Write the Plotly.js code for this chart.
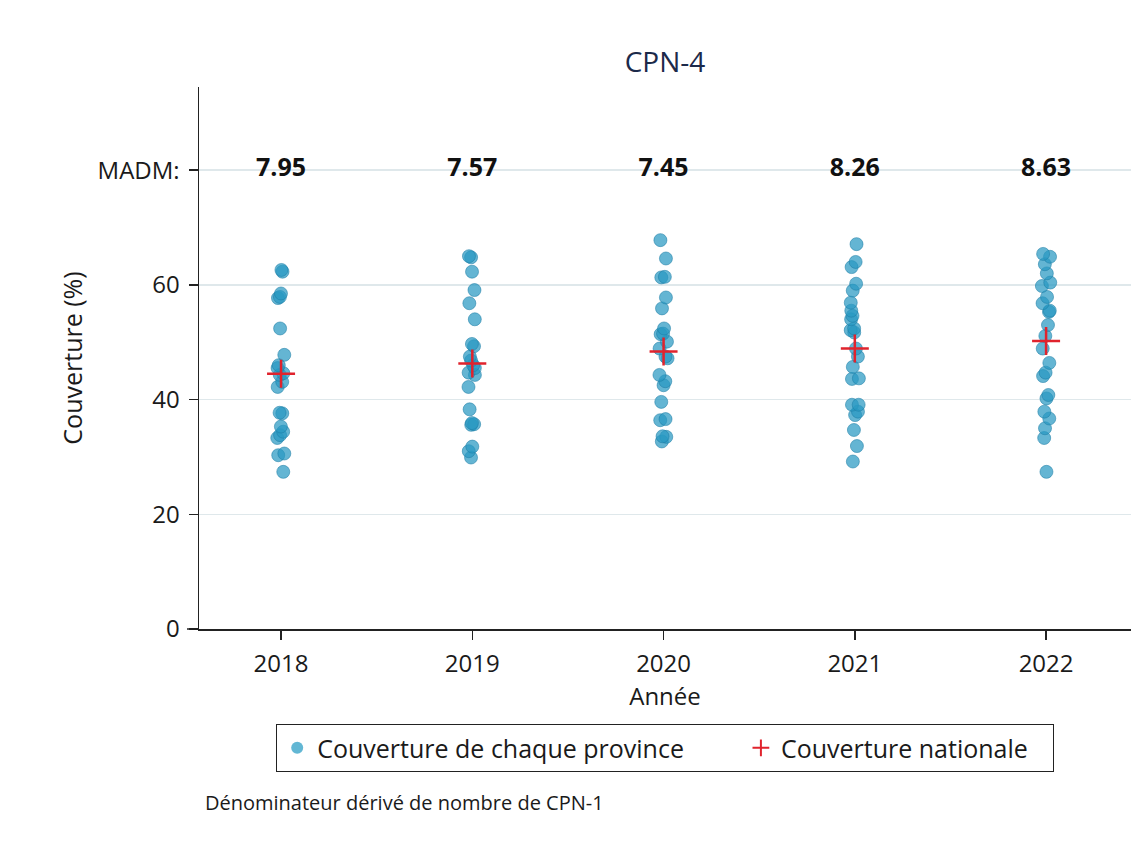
<!DOCTYPE html>
<html>
<head>
<meta charset="utf-8">
<script src="https://cdn.plot.ly/plotly-3.0.1.min.js"></script>
<style>
  body { margin: 0; background: #fff; }
  #chart { width: 1144px; height: 843px; }
</style>
</head>
<body>
<div id="chart"></div>
<script>
// Années et valeurs
var years = [2018, 2019, 2020, 2021, 2022];

var prov2018 = [62.3, 62.6, 57.7, 58.5, 57.9, 52.4, 47.8, 46.0, 45.5, 44.6, 44.3, 43.1,
	42.2, 37.6, 37.7, 35.3, 34.4, 33.8, 33.3, 30.3, 30.6, 27.4];
var prov2019 = [64.8, 65.0, 62.3, 59.1, 56.8, 54.0, 49.7, 49.3, 47.5, 46.8, 46.0, 45.5,
	44.3, 44.7, 42.2, 38.3, 35.7, 35.9, 35.6, 31.8, 31.0, 29.9];
var prov2020 = [67.8, 64.6, 61.4, 61.3, 57.8, 55.9, 52.4, 51.5, 51.4, 50.1, 48.9, 47.2,
	47.5, 44.3, 43.2, 42.5, 39.6, 36.6, 36.4, 33.6, 33.5, 32.7];
var prov2021 = [67.1, 64.0, 63.1, 60.2, 59.0, 56.9, 55.5, 54.6, 54.0, 52.4, 52.1, 51.7,
	48.9, 47.5, 45.7, 43.7, 43.6, 39.1, 39.1, 37.9, 37.3, 34.7, 31.9, 29.2];
var prov2022 = [65.4, 64.9, 63.6, 62.0, 60.4, 59.8, 57.9, 56.8, 55.5, 55.3, 53.0, 51.1,
	48.9, 46.4, 44.7, 44.1, 40.8, 40.2, 37.9, 36.7, 35.0, 33.3, 27.4];

var national = [44.5, 46.3, 48.4, 48.9, 50.2];
var madm = ['7.95', '7.57', '7.45', '8.26', '8.63'];
var madmRow = 80;

var yTickVals = [0, 20, 40, 60, 80];
var yTickText = ['0', '20', '40', '60', 'MADM:'];

// Points par province : une boîte invisible par année, jitter de Plotly
var provByYear = [prov2018, prov2019, prov2020, prov2021, prov2022];
var provX = [];
var provY = [];
provByYear.forEach(function (vals, i) {
	vals.forEach(function (v) {
		provX.push(years[i]);
		provY.push(v);
	});
});

var dotColor = 'rgba(40,152,194,0.72)';
var font = '"Open Sans", "Noto Sans", sans-serif';
var nb = '\u00a0';

var traces = [{
	type: 'box',
	x: provX,
	y: provY,
	boxpoints: 'all',
	jitter: 0.6,
	pointpos: 0,
	width: 0.08,
	fillcolor: 'rgba(0,0,0,0)',
	line: { width: 0, color: 'rgba(0,0,0,0)' },
	whiskerwidth: 0,
	marker: { size: 13, color: dotColor, line: { width: 1, color: 'rgba(30,125,165,0.55)' } },
	hoverinfo: 'skip',
	showlegend: false
}, {
	type: 'scatter',
	mode: 'markers',
	name: 'Couverture de chaque province' + nb.repeat(8),
	x: [null],
	y: [null],
	marker: { size: 12, color: 'rgba(70,170,205,0.85)' }
}, {
	type: 'scatter',
	mode: 'markers',
	name: 'Couverture nationale' + nb.repeat(3),
	x: years,
	y: national,
	marker: { symbol: 'cross-thin', size: 20, color: '#e0232d', line: { width: 2.5, color: '#e0232d' } },
	hoverinfo: 'skip'
}, {
	type: 'scatter',
	mode: 'text',
	x: years,
	y: years.map(function () { return madmRow; }),
	text: madm,
	textposition: 'middle center',
	textfont: { family: font, size: 25, color: '#111', weight: 'bold' },
	hoverinfo: 'skip',
	showlegend: false
}];

var layout = {
	width: 1144,
	height: 843,
	margin: { l: 199, r: 13, t: 87, b: 214 },
	paper_bgcolor: '#fff',
	plot_bgcolor: '#fff',
	font: { family: font, color: '#1a1a1a' },
	title: {
		text: 'CPN-4',
		font: { family: font, size: 28, color: '#1c2a4a' },
		x: 0.5,
		xref: 'paper',
		y: 1 - 62 / 843,
		yanchor: 'middle'
	},
	xaxis: {
		range: [2017.571, 2022.444],
		tickvals: years,
		ticktext: years.map(String),
		ticks: 'outside',
		ticklen: 9,
		tickwidth: 1.5,
		tickcolor: '#222',
		ticklabelstandoff: 4,
		showline: true,
		linecolor: '#222',
		linewidth: 1.5,
		showgrid: false,
		zeroline: false,
		tickfont: { size: 24 },
		title: { text: 'Année', font: { size: 24 }, standoff: 0 }
	},
	yaxis: {
		range: [0, 94.5],
		tickvals: yTickVals,
		ticktext: yTickText,
		ticks: 'outside',
		ticklen: 9,
		tickwidth: 1.5,
		tickcolor: '#222',
		ticklabelstandoff: 4,
		showline: true,
		linecolor: '#222',
		linewidth: 1.5,
		showgrid: true,
		gridcolor: '#dfe8eb',
		gridwidth: 1.5,
		zeroline: false,
		tickfont: { size: 24 },
		title: { text: 'Couverture (%)', font: { size: 25 }, standoff: 8 }
	},
	legend: {
		orientation: 'h',
		x: 0.5,
		xanchor: 'center',
		y: -0.175,
		yanchor: 'top',
		bordercolor: '#222',
		borderwidth: 1.2,
		font: { size: 25 },
		itemsizing: 'constant'
	},
	shapes: [{
		type: 'line',
		xref: 'paper',
		yref: 'paper',
		x0: -12 / 932,
		x1: 0,
		y0: 0,
		y1: 0,
		line: { color: '#222', width: 1.5 }
	}],
	annotations: [{
		text: 'Dénominateur dérivé de nombre de CPN-1',
		xref: 'paper',
		yref: 'paper',
		x: 0.004,
		xanchor: 'left',
		y: -0.321,
		yanchor: 'middle',
		showarrow: false,
		font: { size: 20, color: '#1a1a1a' }
	}]
};

Plotly.newPlot('chart', traces, layout, { displayModeBar: false, staticPlot: true });
</script>
</body>
</html>
